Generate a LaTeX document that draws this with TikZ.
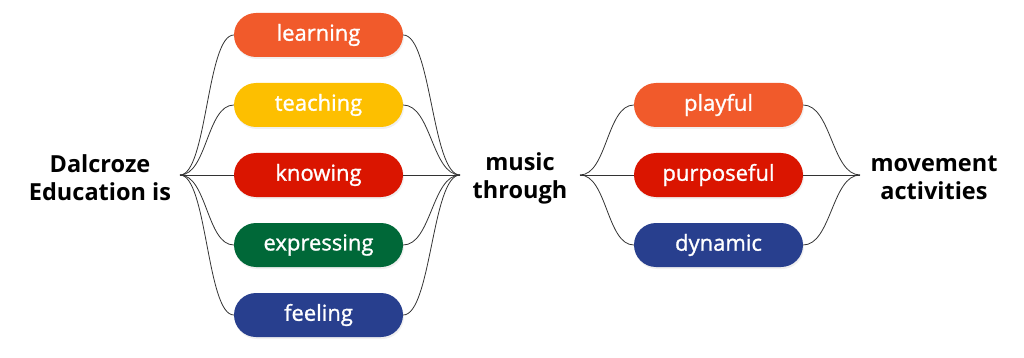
\documentclass[tikz,border=0pt]{standalone}
\usepackage{fontspec}
\setmainfont{Open Sans}
\newfontfamily\pillfont[FakeBold=1.2]{Open Sans}
\usetikzlibrary{shadows}
\definecolor{dorange}{HTML}{F15A2B}
\definecolor{dyellow}{HTML}{FDBF00}
\definecolor{dred}{HTML}{DA1500}
\definecolor{dgreen}{HTML}{006838}
\definecolor{dblue}{HTML}{283F8E}
\tikzset{
  pill/.style={rounded corners=22pt, minimum width=169pt, minimum height=44pt,
    text=white, font=\pillfont\fontsize{22}{24}\selectfont,
    drop shadow={shadow xshift=1pt, shadow yshift=-2pt, opacity=.12}},
  label/.style={align=center, font=\fontsize{23.5}{28}\selectfont\bfseries},
  link/.style={draw=black!80, line width=.8pt},
}
\begin{document}
\begin{tikzpicture}[x=1pt, y=-1pt]
\useasboundingbox (0,0) rectangle (1024,358);
\node[label] (who) at (100,178) {Dalcroze\\Education is};
\node[label] (music) at (520,178) {music\\through};
\node[label] (move) at (934,178) {movement\\activities};
\coordinate (h1) at (180,175);
\coordinate (h2) at (460,175);
\coordinate (h3) at (580,175);
\coordinate (h4) at (860,175);
\node[pill, fill=dorange] (learn) at (318.5,35) {learning};
\node[pill, fill=dyellow] (teach) at (318.5,105) {teaching};
\node[pill, fill=dred] (know) at (318.5,175) {knowing};
\node[pill, fill=dgreen] (express) at (318.5,245) {expressing};
\node[pill, fill=dblue] (feel) at (318.5,315) {feeling};
\node[pill, fill=dorange] (play) at (718.5,105) {playful};
\node[pill, fill=dred] (purpose) at (718.5,175) {purposeful};
\node[pill, fill=dblue] (dyn) at (718.5,245) {dynamic};
% first bundle
\draw[link] (h1) .. controls +(27,0) and +(-27,0) .. (learn.west);
\draw[link] (h1) .. controls +(27,0) and +(-27,0) .. (teach.west);
\draw[link] (h1) -- (know.west);
\draw[link] (h1) .. controls +(27,0) and +(-27,0) .. (express.west);
\draw[link] (h1) .. controls +(27,0) and +(-27,0) .. (feel.west);
\draw[link] (learn.east) .. controls +(28,0) and +(-28,0) .. (h2);
\draw[link] (teach.east) .. controls +(28,0) and +(-28,0) .. (h2);
\draw[link] (know.east) -- (h2);
\draw[link] (express.east) .. controls +(28,0) and +(-28,0) .. (h2);
\draw[link] (feel.east) .. controls +(28,0) and +(-28,0) .. (h2);
% second bundle
\draw[link] (h3) .. controls +(27,0) and +(-27,0) .. (play.west);
\draw[link] (h3) -- (purpose.west);
\draw[link] (h3) .. controls +(27,0) and +(-27,0) .. (dyn.west);
\draw[link] (play.east) .. controls +(28,0) and +(-28,0) .. (h4);
\draw[link] (purpose.east) -- (h4);
\draw[link] (dyn.east) .. controls +(28,0) and +(-28,0) .. (h4);
\end{tikzpicture}
\end{document}
